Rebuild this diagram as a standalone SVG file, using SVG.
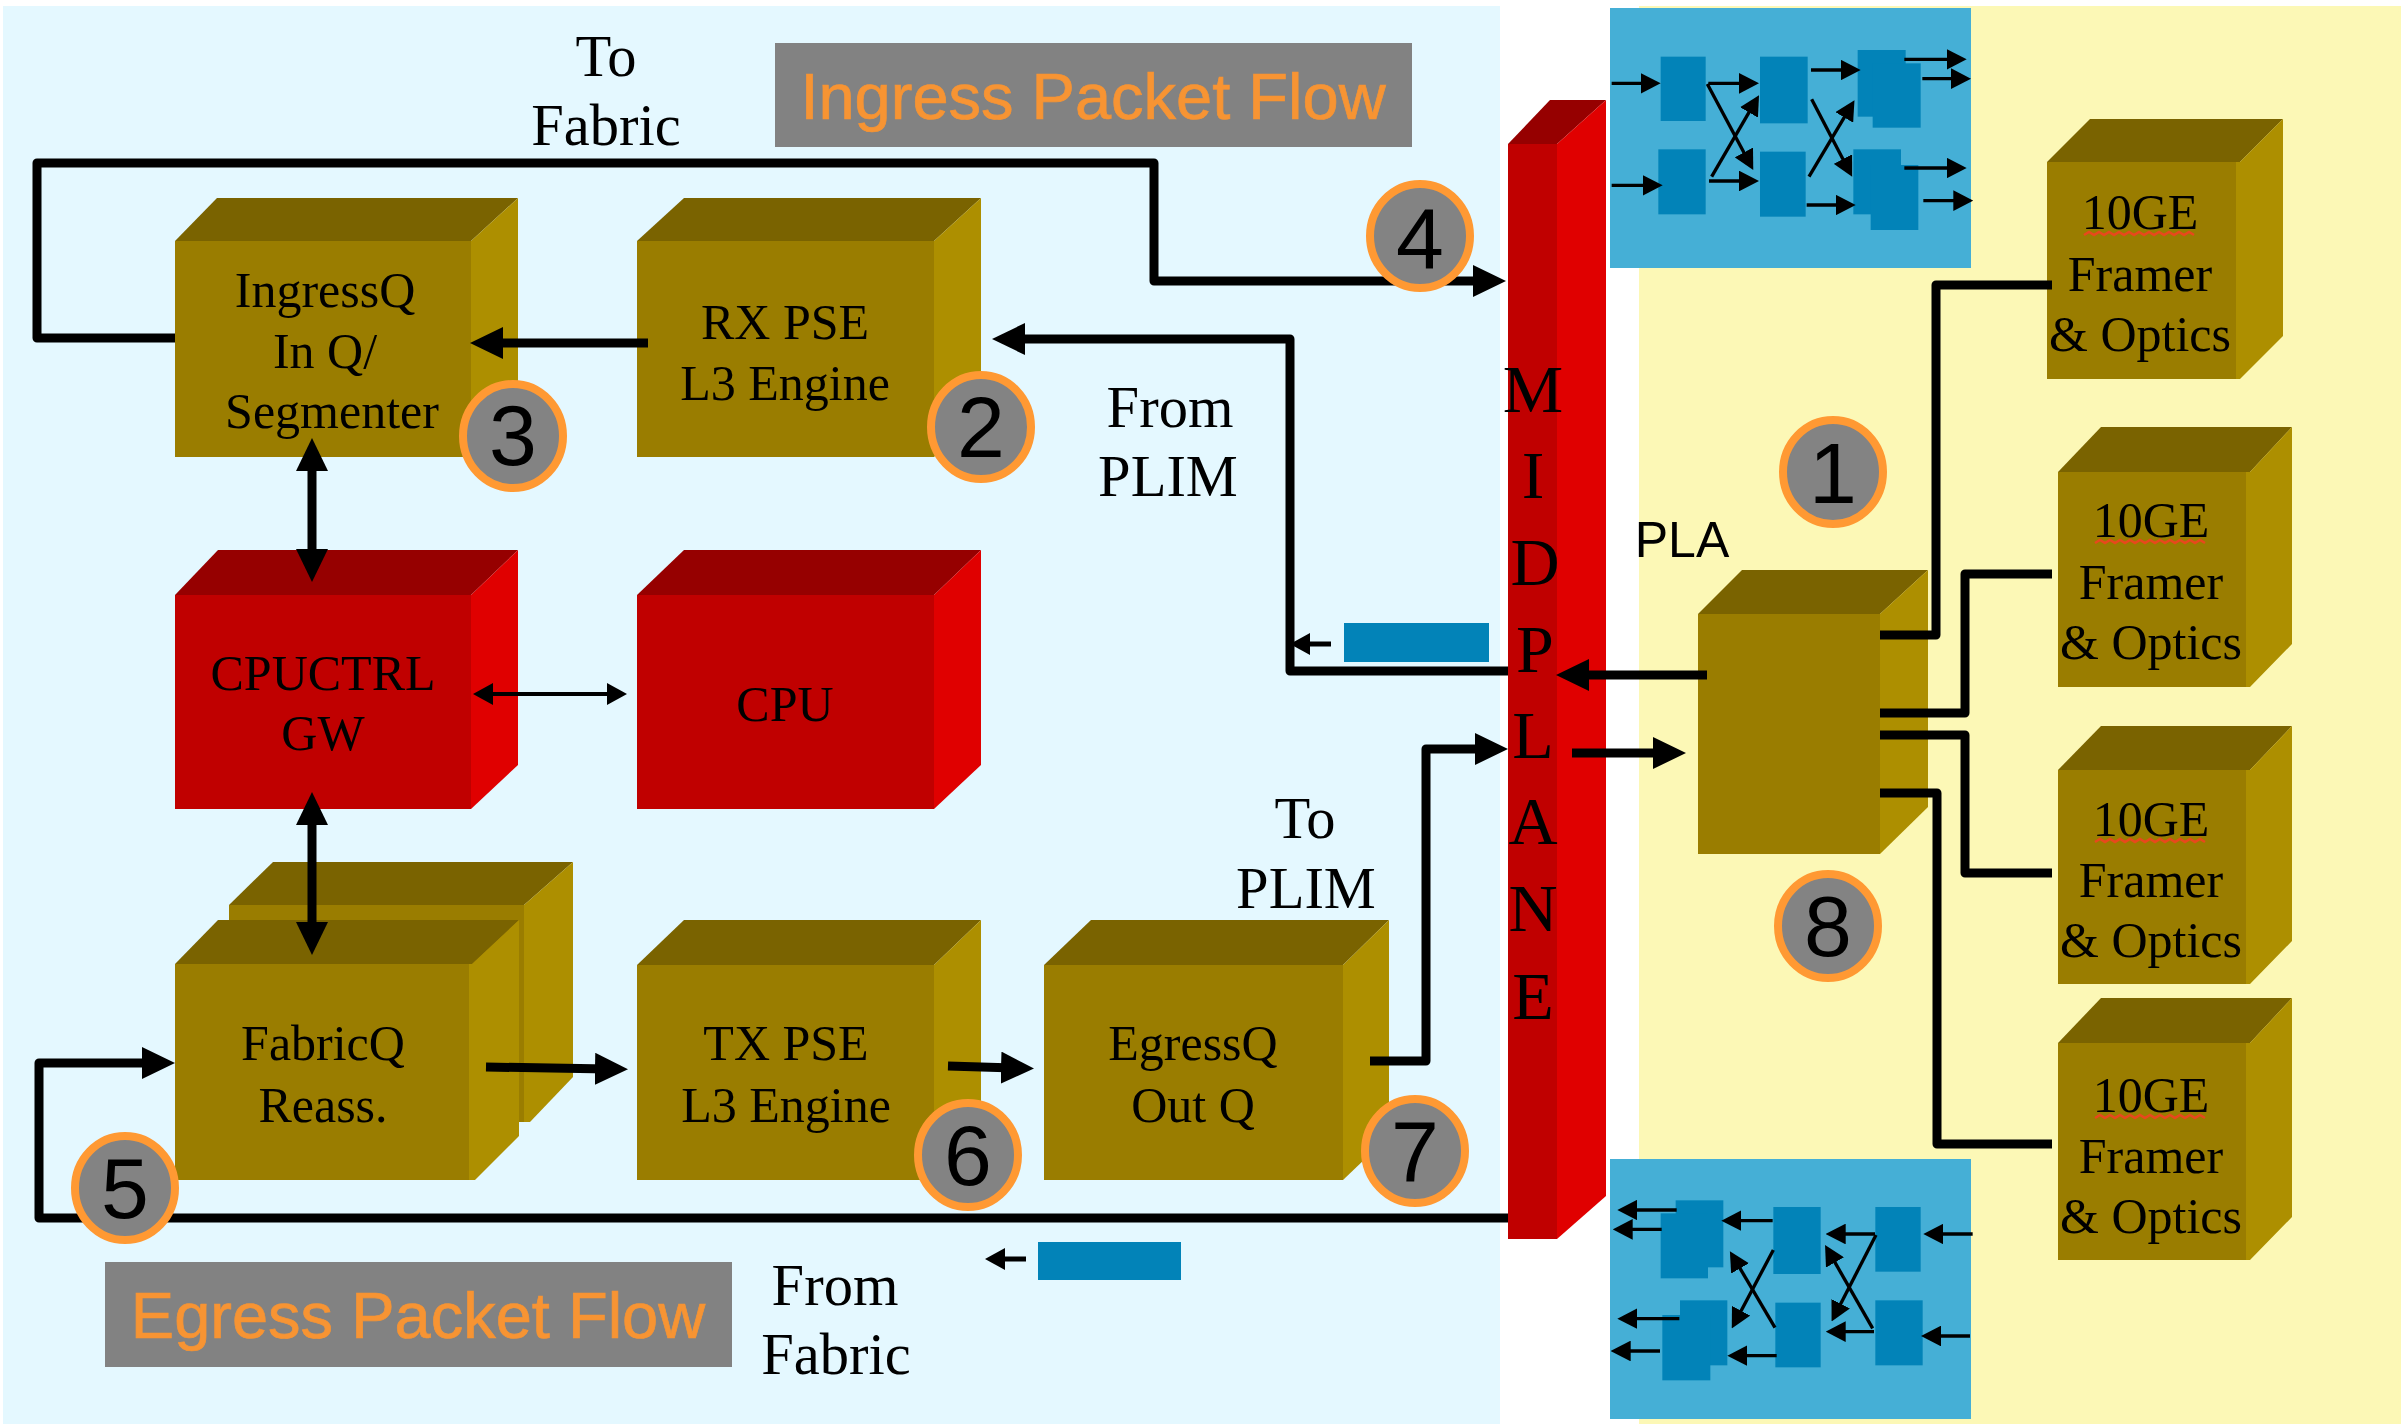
<svg xmlns="http://www.w3.org/2000/svg" width="2401" height="1424" viewBox="0 0 2401 1424">
<style>
.tf{fill:#9A7D00}.tt{fill:#7A6300}.tr{fill:#AD8F00}
.rf{fill:#C00000}.rt{fill:#960000}.rr{fill:#E00000}
text{font-family:"Liberation Serif","Times New Roman",serif;fill:#000;text-anchor:middle}
.b{font-size:50px}.x{font-size:58.5px}.m{font-size:68px}
.s{font-family:"Liberation Sans",Arial,sans-serif}
.d{font-family:"Liberation Sans",Arial,sans-serif;font-size:86px}
.h{font-family:"Liberation Sans",Arial,sans-serif;font-size:65px;fill:#F79433;stroke:#F79433;stroke-width:.7}
.c{fill:#838383;stroke:#FF9933;stroke-width:8}
.w{fill:none;stroke:#000;stroke-width:9;stroke-linejoin:round}
.in{fill:#0283B8}
.sw{fill:none;stroke:#000;stroke-width:10;marker-end:url(#sa)}
.sq{fill:none;stroke:#E8481C;stroke-width:2.5}
</style>
<defs>
<marker id="a" markerUnits="userSpaceOnUse" markerWidth="33" markerHeight="32" viewBox="0 0 33 32" refX="13" refY="16" orient="auto-start-reverse"><path d="M0 0L33 16L0 32Z"/></marker>
<marker id="n" markerUnits="userSpaceOnUse" markerWidth="20" markerHeight="22" viewBox="0 0 20 22" refX="8" refY="11" orient="auto-start-reverse"><path d="M0 0L20 11L0 22Z"/></marker>
<marker id="sa" markerUnits="userSpaceOnUse" markerWidth="60" markerHeight="62" viewBox="0 0 60 62" refX="20" refY="31" orient="auto"><path d="M0 0L60 31L0 62Z"/></marker>
<path id="sqg" d="M0 3l5 -3l5 3l5 -3l5 3l5 -3l5 3l5 -3l5 3l5 -3l5 3l5 -3l5 3l5 -3l5 3l5 -3l5 3l5 -3l5 3l5 -3l5 3l5 -3l5 3"/>
</defs>

<g id="panels">
<rect x="3" y="6" width="1497" height="1418" fill="#E4F8FF"/>
<rect x="1639" y="6" width="762" height="1418" fill="#FCF8B6"/>
</g>

<g id="ingress-label"><rect x="775" y="43" width="637" height="104" fill="#828282"/><text class="h" x="1093" y="119">Ingress Packet Flow</text></g>
<g id="egress-label"><rect x="105" y="1262" width="627" height="105" fill="#828282"/><text class="h" x="418" y="1338">Egress Packet Flow</text></g>

<g id="switch-top">
<rect x="1610" y="8" width="361" height="260" fill="#45AFD6"/>
<g transform="translate(1560 0) scale(.33333)">
<rect class="in" x="302" y="170" width="135" height="193"/><rect class="in" x="295" y="448" width="142" height="195"/>
<rect class="in" x="600" y="170" width="143" height="200"/><rect class="in" x="600" y="455" width="137" height="195"/>
<rect class="in" x="893" y="150" width="144" height="200"/><rect class="in" x="938" y="190" width="144" height="193"/>
<rect class="in" x="880" y="448" width="143" height="195"/><rect class="in" x="932" y="495" width="143" height="195"/>
<path class="sw" d="M155 250H262"/><path class="sw" d="M155 556H268"/>
<path class="sw" d="M445 250H557"/><path class="sw" d="M447 543H557"/>
<path class="sw" d="M442 252L561 475"/><path class="sw" d="M455 530L577 320"/>
<path class="sw" d="M753 210H862"/><path class="sw" d="M740 615H847"/>
<path class="sw" d="M755 298L858 495"/><path class="sw" d="M747 530L863 335"/>
<path class="sw" d="M1033 178H1180"/><path class="sw" d="M1087 236H1193"/>
<path class="sw" d="M1033 504H1180"/><path class="sw" d="M1090 602H1200"/>
</g>
</g>

<g id="switch-bottom">
<rect x="1610" y="1159" width="361" height="260" fill="#45AFD6"/>
<g transform="translate(1560 1140) scale(.33333)">
<rect class="in" x="347" y="181" width="143" height="201"/><rect class="in" x="302" y="220" width="142" height="195"/>
<rect class="in" x="360" y="481" width="142" height="195"/><rect class="in" x="307" y="525" width="144" height="196"/>
<rect class="in" x="640" y="201" width="142" height="201"/><rect class="in" x="646" y="488" width="136" height="194"/>
<rect class="in" x="946" y="201" width="136" height="194"/><rect class="in" x="946" y="481" width="142" height="195"/>
<path class="sw" d="M350 210H212"/><path class="sw" d="M305 268H198"/>
<path class="sw" d="M358 536H212"/><path class="sw" d="M300 633H192"/>
<path class="sw" d="M638 242H524"/><path class="sw" d="M650 647H542"/>
<path class="sw" d="M640 330L534 530"/><path class="sw" d="M645 563L530 368"/>
<path class="sw" d="M945 282H837"/><path class="sw" d="M942 575H837"/>
<path class="sw" d="M948 285L833 509"/><path class="sw" d="M938 565L815 350"/>
<path class="sw" d="M1238 282H1130"/><path class="sw" d="M1230 588H1123"/>
</g>
</g>

<g id="midplane">
<path class="rt" d="M1508 144L1550 100H1606L1557 144Z"/>
<path class="rr" d="M1557 144L1606 100V1196L1557 1239Z"/>
<rect class="rf" x="1508" y="144" width="49" height="1095"/>
<text class="m" x="1533" y="412">M</text><text class="m" x="1533" y="498">I</text><text class="m" x="1535" y="585">D</text><text class="m" x="1535" y="672">P</text><text class="m" x="1533" y="758">L</text><text class="m" x="1533" y="844">A</text><text class="m" x="1533" y="931">N</text><text class="m" x="1533" y="1019">E</text>
</g>

<g id="ingressq">
<path class="tt" d="M175 241L217 198H518L471 241Z"/><path class="tr" d="M471 241L518 198V414L471 457Z"/><rect class="tf" x="175" y="241" width="296" height="216"/>
<text class="b" x="325" y="307">IngressQ</text><text class="b" x="325" y="368">In Q/</text><text class="b" x="332" y="428">Segmenter</text>
</g>
<g id="rx-pse">
<path class="tt" d="M637 241L684 198H981L934 241Z"/><path class="tr" d="M934 241L981 198V414L934 457Z"/><rect class="tf" x="637" y="241" width="297" height="216"/>
<text class="b" x="785" y="339">RX PSE</text><text class="b" x="785" y="400">L3 Engine</text>
</g>
<g id="cpuctrl">
<path class="rt" d="M175 595L218 550H518L471 595Z"/><path class="rr" d="M471 595L518 550V765L471 809Z"/><rect class="rf" x="175" y="595" width="296" height="214"/>
<text class="b" x="323" y="690">CPUCTRL</text><text class="b" x="323" y="750">GW</text>
</g>
<g id="cpu">
<path class="rt" d="M637 595L684 550H981L934 595Z"/><path class="rr" d="M934 595L981 550V765L934 809Z"/><rect class="rf" x="637" y="595" width="297" height="214"/>
<text class="b" x="785" y="721">CPU</text>
</g>
<g id="fabricq-back">
<path class="tt" d="M229 905L273 862H573L524 905Z"/><path class="tr" d="M524 905L573 862V1077L530 1122H524Z"/><rect class="tf" x="229" y="905" width="295" height="217"/>
</g>
<g id="fabricq">
<path class="tt" d="M175 964L218 920H519L472 964Z"/><path class="tr" d="M469 964H472L519 920V1136L475 1180H469Z"/><rect class="tf" x="175" y="964" width="294" height="216"/>
<text class="b" x="323" y="1060">FabricQ</text><text class="b" x="323" y="1122">Reass.</text>
</g>
<g id="tx-pse">
<path class="tt" d="M637 965L684 920H981L934 965Z"/><path class="tr" d="M934 965L981 920V1136L934 1180Z"/><rect class="tf" x="637" y="965" width="297" height="215"/>
<text class="b" x="786" y="1060">TX PSE</text><text class="b" x="786" y="1122">L3 Engine</text>
</g>
<g id="egressq">
<path class="tt" d="M1044 965L1091 920H1389L1343 965Z"/><path class="tr" d="M1343 965L1389 920V1136L1343 1180Z"/><rect class="tf" x="1044" y="965" width="299" height="215"/>
<text class="b" x="1193" y="1060">EgressQ</text><text class="b" x="1193" y="1122">Out Q</text>
</g>
<g id="pla">
<path class="tt" d="M1698 614L1742 570H1928L1880 614Z"/><path class="tr" d="M1880 614L1928 570V807L1880 854Z"/><rect class="tf" x="1698" y="614" width="182" height="240"/>
<text class="s" x="1682" y="557" font-size="50">PLA</text>
</g>
<g id="framer-1">
<path class="tt" d="M2047 162L2090 119H2283L2240 162Z"/><path class="tr" d="M2236 162H2240L2283 119V336L2240 379H2236Z"/><rect class="tf" x="2047" y="162" width="189" height="217"/>
<text class="b" x="2140" y="229">10GE</text><use href="#sqg" class="sq" x="2084" y="232"/><text class="b" x="2140" y="291">Framer</text><text class="b" x="2140" y="351">&amp; Optics</text>
</g>
<g id="framer-2">
<path class="tt" d="M2058 472L2101 427H2292L2250 472Z"/><path class="tr" d="M2246 472H2250L2292 427V644L2250 687H2246Z"/><rect class="tf" x="2058" y="472" width="188" height="215"/>
<text class="b" x="2151" y="537">10GE</text><use href="#sqg" class="sq" x="2095" y="540"/><text class="b" x="2151" y="599">Framer</text><text class="b" x="2151" y="659">&amp; Optics</text>
</g>
<g id="framer-3">
<path class="tt" d="M2058 770L2101 726H2292L2250 770Z"/><path class="tr" d="M2246 770H2250L2292 726V941L2250 984H2246Z"/><rect class="tf" x="2058" y="770" width="188" height="214"/>
<text class="b" x="2151" y="836">10GE</text><use href="#sqg" class="sq" x="2095" y="839"/><text class="b" x="2151" y="897">Framer</text><text class="b" x="2151" y="957">&amp; Optics</text>
</g>
<g id="framer-4">
<path class="tt" d="M2058 1043L2101 998H2292L2250 1043Z"/><path class="tr" d="M2246 1043H2250L2292 998V1217L2250 1260H2246Z"/><rect class="tf" x="2058" y="1043" width="188" height="217"/>
<text class="b" x="2151" y="1112">10GE</text><use href="#sqg" class="sq" x="2095" y="1115"/><text class="b" x="2151" y="1173">Framer</text><text class="b" x="2151" y="1233">&amp; Optics</text>
</g>

<g id="labels">
<text class="x" x="606" y="76">To</text><text class="x" x="606" y="145">Fabric</text>
<text class="x" x="1170" y="427">From</text><text class="x" x="1168" y="496">PLIM</text>
<text class="x" x="1305" y="838">To</text><text class="x" x="1306" y="908">PLIM</text>
<text class="x" x="835" y="1305">From</text><text class="x" x="836" y="1374">Fabric</text>
</g>

<g id="bars">
<rect class="in" x="1344" y="623" width="145" height="39"/>
<rect class="in" x="1038" y="1242" width="143" height="38"/>
</g>

<g id="connectors">
<path class="w" d="M175 338H37V163H1154V281H1486" marker-end="url(#a)"/>
<path class="w" d="M1508 671H1290V339H1012" marker-end="url(#a)"/>
<path class="w" d="M648 343H490" marker-end="url(#a)"/>
<path class="w" d="M312 458V562" marker-start="url(#a)" marker-end="url(#a)"/>
<path class="w" d="M312 812V935" marker-start="url(#a)" marker-end="url(#a)"/>
<path d="M485 694H615" fill="none" stroke="#000" stroke-width="4" marker-start="url(#n)" marker-end="url(#n)"/>
<path class="w" d="M486 1067L608 1069" marker-end="url(#a)"/>
<path class="w" d="M948 1066L1014 1068" marker-end="url(#a)"/>
<path class="w" d="M1508 1218H39V1063H155" marker-end="url(#a)"/>
<path class="w" d="M1370 1061H1426V749H1488" marker-end="url(#a)"/>
<path class="w" d="M1707 675H1576" marker-end="url(#a)"/>
<path class="w" d="M1572 753H1666" marker-end="url(#a)"/>
<path class="w" d="M1880 635H1936V285H2052"/>
<path class="w" d="M1880 713H1965V574H2052"/>
<path class="w" d="M1880 735H1965V873H2052"/>
<path class="w" d="M1880 793H1937V1144H2052"/>
<path d="M1331 644H1302" fill="none" stroke="#000" stroke-width="5" marker-end="url(#n)"/>
<path d="M1026 1259H997" fill="none" stroke="#000" stroke-width="5" marker-end="url(#n)"/>
</g>

<g id="badge-1"><ellipse class="c" cx="1833" cy="472" rx="50" ry="52"/><text class="d" x="1833" y="503">1</text></g>
<g id="badge-2"><ellipse class="c" cx="981" cy="427" rx="50" ry="52"/><text class="d" x="981" y="457">2</text></g>
<g id="badge-3"><ellipse class="c" cx="513" cy="436" rx="50" ry="52"/><text class="d" x="513" y="465">3</text></g>
<g id="badge-4"><ellipse class="c" cx="1420" cy="236" rx="50" ry="52"/><text class="d" x="1420" y="268">4</text></g>
<g id="badge-5"><ellipse class="c" cx="125" cy="1188" rx="50" ry="52"/><text class="d" x="125" y="1218">5</text></g>
<g id="badge-6"><ellipse class="c" cx="968" cy="1155" rx="50" ry="52"/><text class="d" x="968" y="1185">6</text></g>
<g id="badge-7"><ellipse class="c" cx="1415" cy="1151" rx="50" ry="52"/><text class="d" x="1415" y="1181">7</text></g>
<g id="badge-8"><ellipse class="c" cx="1828" cy="926" rx="50" ry="52"/><text class="d" x="1828" y="956">8</text></g>
</svg>
